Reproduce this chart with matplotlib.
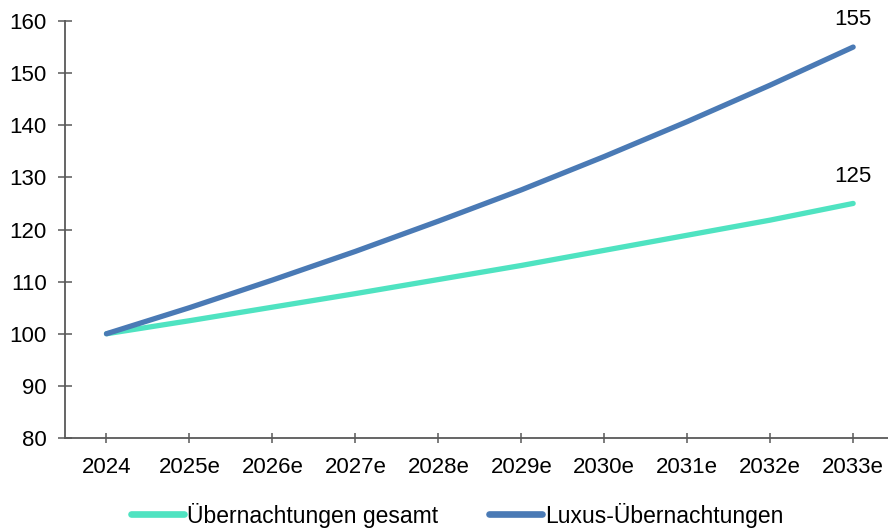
import matplotlib
matplotlib.use("Agg")
import matplotlib.pyplot as plt

# Index (2024 = 100)
years = ["2024", "2025e", "2026e", "2027e", "2028e", "2029e", "2030e", "2031e", "2032e", "2033e"]
gesamt = [100, 102.5, 105.1, 107.7, 110.4, 113.1, 116.0, 118.9, 121.8, 125]
luxus = [100, 105.0, 110.3, 115.8, 121.6, 127.6, 134.0, 140.7, 147.7, 155]

plt.rcParams["font.family"] = ["Liberation Sans", "DejaVu Sans"]

W, H = 888, 530
fig = plt.figure(figsize=(W / 100, H / 100), dpi=100)
ax = fig.add_axes([65 / W, 1 - 438 / H, (888 - 65) / W, (438 - 21) / H])

x = range(len(years))
c_ges = "#4FE3C1"
c_lux = "#4A7AB5"
ax.plot(x, gesamt, color=c_ges, lw=3.8, solid_capstyle="round", label="Übernachtungen gesamt")
ax.plot(x, luxus, color=c_lux, lw=3.8, solid_capstyle="round", label="Luxus-Übernachtungen")

for series in (gesamt, luxus):
    ax.annotate(f"{series[-1]:g}", xy=(len(years) - 1, series[-1]), xytext=(0, 12),
                textcoords="offset points", ha="center", va="bottom", fontsize=16, color="black")

ax.set_xlim(-0.5, 9.42)
ax.set_ylim(80, 160)
ax.set_yticks(range(80, 161, 10))
ax.set_xticks(list(x))
ax.set_xticklabels(years)

spine_c = "#595959"
for s in ("top", "right"):
    ax.spines[s].set_visible(False)
for s in ("left", "bottom"):
    ax.spines[s].set_color(spine_c)
    ax.spines[s].set_linewidth(1.3)
ax.tick_params(axis="y", direction="inout", length=10, width=1.1, color=spine_c,
               labelsize=16, pad=8, labelcolor="black")
ax.tick_params(axis="x", direction="inout", length=7, width=1.1, color=spine_c,
               labelsize=16, pad=10, labelcolor="black")

leg = fig.legend(loc="center", bbox_to_anchor=(0.515, 1 - 515 / H), ncol=2, frameon=False,
                 fontsize=16.5, handlelength=2.3, handletextpad=0.15, columnspacing=2.2)
for h in leg.get_lines():
    h.set_linewidth(4.8)

fig.savefig("out.png", dpi=100)
